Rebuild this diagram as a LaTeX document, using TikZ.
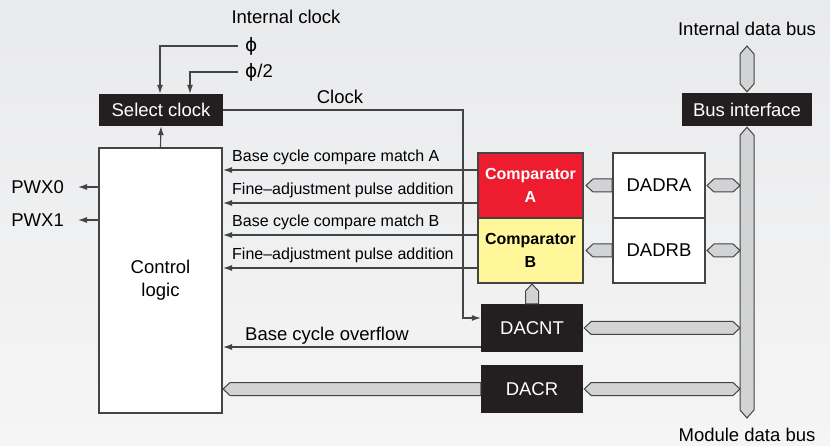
\documentclass[tikz,border=0pt]{standalone}
\usepackage{fontspec}
\setmainfont{Liberation Sans}
\newfontfamily\phifont{DejaVu Sans}
\usetikzlibrary{arrows.meta,calc,positioning}

\definecolor{boxblack}{RGB}{35,31,32}
\definecolor{linegray}{RGB}{68,68,68}
\definecolor{busgray}{RGB}{209,211,212}
\definecolor{compred}{RGB}{237,28,46}
\definecolor{compyel}{RGB}{255,247,153}
\definecolor{bgtop}{RGB}{233,234,236}
\definecolor{bgbot}{RGB}{245,245,245}

\newcommand{\bigtxt}{\fontsize{18.5}{23}\selectfont}
\newcommand{\smalltxt}{\fontsize{16}{19}\selectfont}

\newcommand{\busLR}[2]{\draw[bus] let \p1=(#1), \p2=(#2) in
  (\x1,\y1) -- (\x1+7pt,\y1+6.5pt) -- (\x2-7pt,\y1+6.5pt) -- (\x2,\y1)
  -- (\x2-7pt,\y1-6.5pt) -- (\x1+7pt,\y1-6.5pt) -- cycle;}
\newcommand{\busL}[2]{\draw[bus] let \p1=(#1), \p2=(#2) in
  (\x1,\y1) -- (\x1+7pt,\y1+6.5pt) -- (\x2,\y1+6.5pt)
  -- (\x2,\y1-6.5pt) -- (\x1+7pt,\y1-6.5pt) -- cycle;}
\newcommand{\busU}[2]{\draw[bus] let \p1=(#1), \p2=(#2) in
  (\x1,\y1) -- (\x1+6.5pt,\y1-7pt) -- (\x1+6.5pt,\y2)
  -- (\x1-6.5pt,\y2) -- (\x1-6.5pt,\y1-7pt) -- cycle;}
\newcommand{\busUD}[2]{\draw[bus] let \p1=(#1), \p2=(#2) in
  (\x1,\y1) -- (\x1+7pt,\y1-8pt) -- (\x1+7pt,\y2+8pt) -- (\x1,\y2)
  -- (\x1-7pt,\y2+8pt) -- (\x1-7pt,\y1-8pt) -- cycle;}

\tikzset{
  blackbox/.style={fill=boxblack, text=white, font=\bigtxt, inner sep=0pt},
  regbox/.style={draw=linegray, line width=2pt, fill=white, font=\bigtxt,
    minimum width=92, minimum height=65, inner sep=0pt},
  compbox/.style={draw=linegray, line width=2pt,
    font=\fontsize{16}{23}\selectfont\bfseries, align=center,
    minimum width=105, minimum height=65, inner sep=0pt},
  sig/.style={draw=linegray, line width=1.1pt, -{Latex[length=9pt,width=6pt]}},
  bus/.style={draw=linegray, line width=1pt, fill=busgray},
  lbl/.style={font=\bigtxt, inner sep=0pt},
  slbl/.style={font=\smalltxt, inner sep=0pt, anchor=base west},
}

\begin{document}
\begin{tikzpicture}[x=1pt,y=-1pt]
\useasboundingbox (0,0) rectangle (830,446);
\shade[top color=bgtop, bottom color=bgbot] (0,0) rectangle (830,446);

\node[blackbox, minimum width=124, minimum height=32] (sel) at (161,110) {Select clock};
\node[draw=linegray, line width=2pt, fill=white, minimum width=123, minimum height=265,
  font=\bigtxt, align=center, inner sep=0pt] (ctrl) at (160.5,280.5) {Control\\logic};
\node[compbox, fill=compred, text=white] (cmpa) at (530.5,185.5) {Comparator\\A};
\node[compbox, fill=compyel] (cmpb) at (530.5,250.5) {Comparator\\B};
\node[regbox] (dadra) at (659,185.5) {DADRA};
\node[regbox] (dadrb) at (659,250.5) {DADRB};
\node[blackbox, minimum width=102, minimum height=48] (dacnt) at (532,328) {DACNT};
\node[blackbox, minimum width=102, minimum height=48] (dacr) at (532,389) {DACR};
\node[blackbox, minimum width=130, minimum height=33] (bif) at (747,109.5) {Bus interface};

\node[lbl] (intclk) at (286,17) {Internal clock};
\node[lbl, anchor=west] (phi) at (245,46) {\phifont ϕ};
\node[lbl, anchor=west] (phihalf) at (245,72) {{\phifont ϕ}/2};
\node[lbl] (clklbl) at (340,97) {Clock};
\node[lbl, anchor=east] (pwx0) at (64,187) {PWX0};
\node[lbl, anchor=east] (pwx1) at (64,220) {PWX1};
\node[lbl] (idblbl) at (747,29) {Internal data bus};
\node[lbl] (mdblbl) at (747,435) {Module data bus};
\coordinate (idb) at (747,46);
\coordinate (mbot) at (747,418);
\coordinate (mbusw) at (740,0);
\coordinate (clkturn) at (463,318);

\draw[sig] ([xshift=-7pt]phi.west) -| ([xshift=-1pt]sel.north);
\draw[sig] ([xshift=-7pt]phihalf.west) -| ([xshift=29pt]sel.north);
\draw[sig] (ctrl.north) -- (sel.south);
\draw[sig] (sel.east) -| (clkturn) -- (clkturn -| dacnt.west);
\draw[sig] (ctrl.west |- pwx0) -- ([xshift=14pt]pwx0.east);
\draw[sig] (ctrl.west |- pwx1) -- ([xshift=14pt]pwx1.east);

\foreach \yy/\src/\txt in {170/cmpa/Base cycle compare match A,
    203/cmpa/Fine–adjustment pulse addition,
    235/cmpb/Base cycle compare match B,
    268/cmpb/Fine–adjustment pulse addition}{
  \draw[sig] (\src.west |- 0,\yy) -- (ctrl.east |- 0,\yy);
  \node[slbl] at (232,\yy-8.5) {\txt};
}
\draw[sig] (dacnt.west |- 0,347) -- (ctrl.east |- 0,347);
\node[slbl, font=\bigtxt] (ovf) at (245,341) {Base cycle overflow};

\busUD{idb}{[yshift=1pt]bif.north}
\busUD{[yshift=-1pt]bif.south}{mbot}
\busL{[xshift=2pt]cmpa.east}{dadra.west}
\busL{[xshift=2pt]cmpb.east}{dadrb.west}
\busLR{[xshift=1pt]dadra.east}{mbusw |- dadra.east}
\busLR{[xshift=1pt]dadrb.east}{mbusw |- dadrb.east}
\busLR{[xshift=1pt]dacnt.east}{mbusw |- dacnt.east}
\busLR{[xshift=1pt]dacr.east}{mbusw |- dacr.east}
\busL{ctrl.east |- dacr.west}{dacr.west}
\busU{cmpb.south -| dacnt.north}{dacnt.north}
\end{tikzpicture}
\end{document}
